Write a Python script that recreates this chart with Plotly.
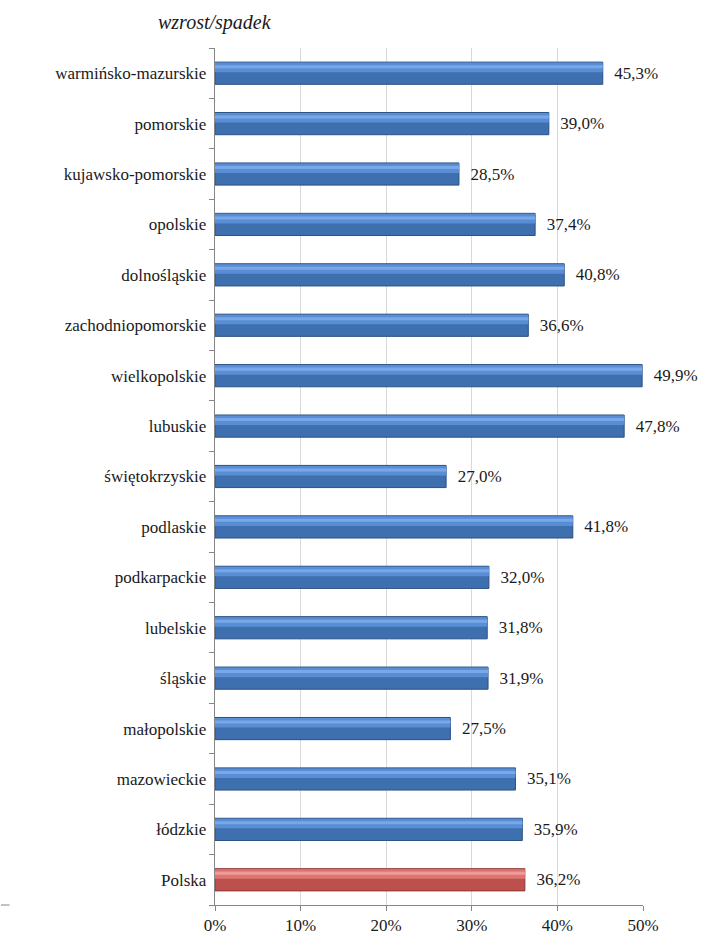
import plotly.graph_objects as go

categories = ["warmińsko-mazurskie", "pomorskie", "kujawsko-pomorskie", "opolskie",
              "dolnośląskie", "zachodniopomorskie", "wielkopolskie", "lubuskie",
              "świętokrzyskie", "podlaskie", "podkarpackie", "lubelskie", "śląskie",
              "małopolskie", "mazowieckie", "łódzkie", "Polska"]
values = [45.3, 39.0, 28.5, 37.4, 40.8, 36.6, 49.9, 47.8, 27.0, 41.8, 32.0, 31.8,
          31.9, 27.5, 35.1, 35.9, 36.2]
tick_vals = [0, 10, 20, 30, 40, 50]
tick_text = ["0%", "10%", "20%", "30%", "40%", "50%"]
title_text = "wzrost/spadek"

# bottom-to-top order for plotting
cats = categories[::-1]
vals = values[::-1]
labels = ["  " + "{:.1f}%".format(v).replace(".", ",") for v in vals]

FONT = "'Liberation Serif', 'DejaVu Serif', serif"

is_pl = [c == "Polska" for c in cats]
base_col = ["#bd4f4c" if p else "#3e6fae" for p in is_pl]
edge_col = ["#8c3836" if p else "#2b5183" for p in is_pl]
top_col = ["#dc7673" if p else "#5a8ed4" for p in is_pl]
light_col = ["#f19a97" if p else "#78a8e8" for p in is_pl]

fig = go.Figure()
# main body (darker lower part)
fig.add_trace(go.Bar(
    y=cats, x=vals, orientation="h", width=0.44, offset=-0.22,
    marker=dict(color=base_col, line=dict(color=edge_col, width=1)),
    text=labels, textposition="outside", cliponaxis=False,
    textfont=dict(family=FONT, size=17, color="#1a1a1a"),
    hoverinfo="skip", showlegend=False))
# upper lighter part
fig.add_trace(go.Bar(
    y=cats, x=vals, orientation="h", width=0.19, offset=0.02,
    marker=dict(color=top_col, line=dict(width=0)),
    hoverinfo="skip", showlegend=False))
# highlight streak
fig.add_trace(go.Bar(
    y=cats, x=vals, orientation="h", width=0.06, offset=0.1,
    marker=dict(color=light_col, line=dict(width=0)),
    hoverinfo="skip", showlegend=False))

fig.update_layout(
    width=714, height=947,
    margin=dict(l=215, r=71, t=48, b=37),
    barmode="overlay",
    paper_bgcolor="white", plot_bgcolor="white",
    font=dict(family=FONT, size=17, color="#1a1a1a"),
)
fig.update_xaxes(
    range=[0, 50], tickvals=tick_vals, ticktext=tick_text,
    showgrid=True, gridcolor="#d9d9d9", gridwidth=1,
    showline=True, linecolor="#868686", linewidth=1,
    ticks="outside", ticklen=5, tickcolor="#868686",
    zeroline=False, tickfont=dict(family=FONT, size=17),
)
fig.update_yaxes(
    categoryorder="array", categoryarray=cats,
    range=[-0.5, len(cats) - 0.5],
    showline=True, linecolor="#868686", linewidth=1,
    ticks="outside", ticklen=5, tickcolor="#868686",
    tickson="boundaries", showgrid=False,
    tickfont=dict(family=FONT, size=17), ticksuffix=" ",
)
fig.add_annotation(
    text="<i>" + title_text + "</i>", xref="paper", yref="paper",
    x=0.0, y=1.0, xanchor="center", yanchor="bottom", yshift=12, showarrow=False,
    font=dict(family=FONT, size=20, color="#1a1a1a"))
fig.add_shape(type="line", xref="paper", yref="paper",
              x0=-0.5, x1=-0.48, y0=0, y1=0, line=dict(color="#868686", width=1))

fig.write_html("out.html")
